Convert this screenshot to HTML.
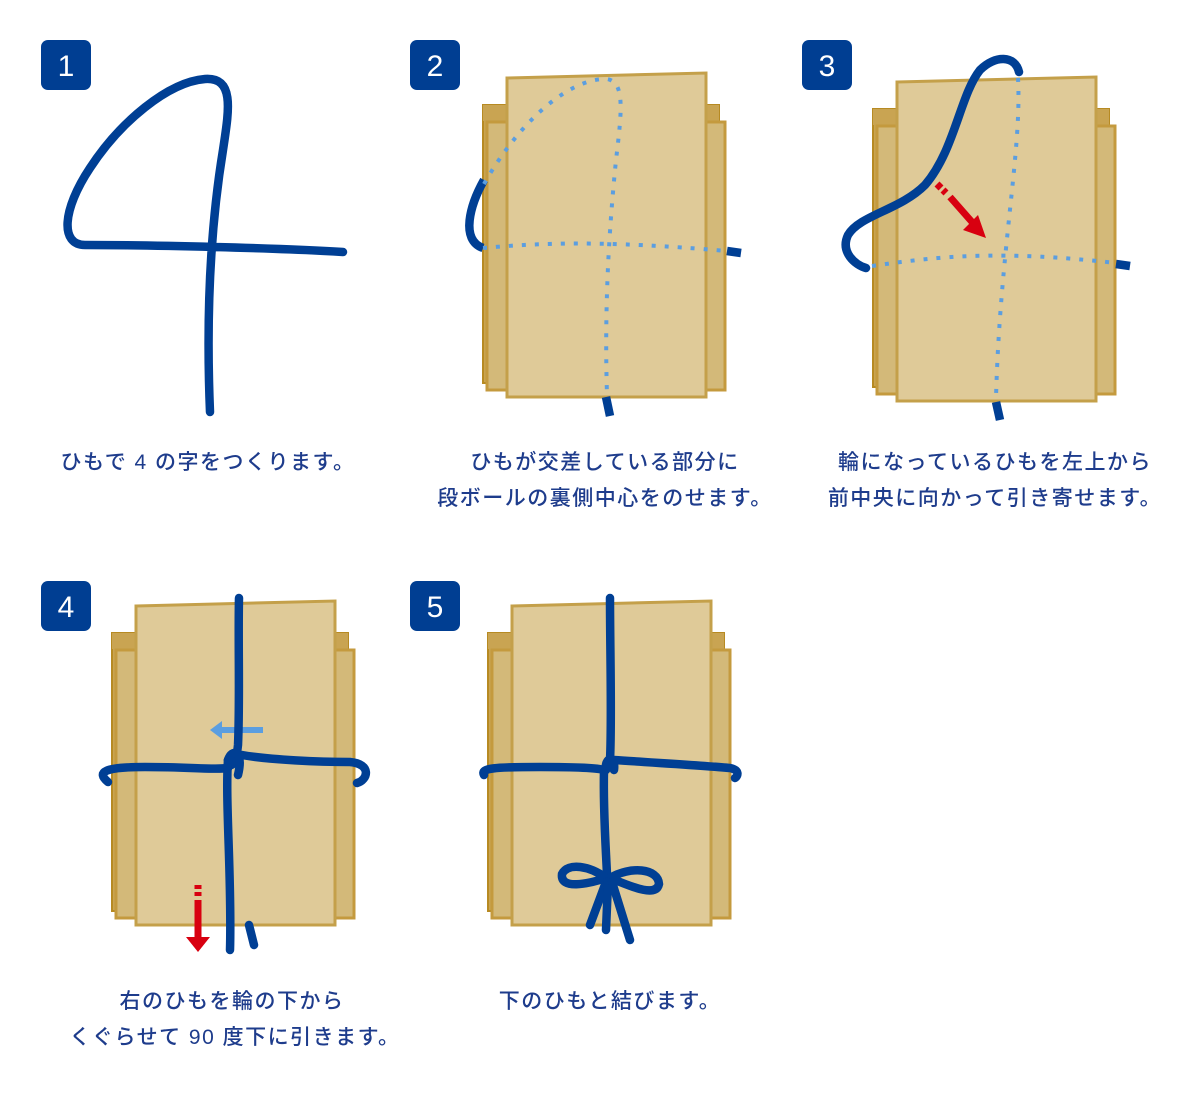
<!DOCTYPE html>
<html><head><meta charset="utf-8"><style>
html,body{margin:0;padding:0;background:#fff;width:1200px;height:1100px;overflow:hidden}
svg{display:block}
text{font-family:"Liberation Sans","Noto Sans CJK JP",sans-serif}
</style></head><body>
<svg width="1200" height="1100" viewBox="0 0 1200 1100">
<defs>
<g id="stack">
  <rect x="483" y="105" width="236" height="278" fill="#c9a452" stroke="#b78a22" stroke-width="2"/>
  <rect x="483" y="105" width="236" height="16" fill="#c9a452"/>
  <rect x="487" y="122" width="238" height="268" fill="#d3b979" stroke="#c49a3e" stroke-width="3"/>
  <path d="M507,78 L706,73 L706,397 L507,397 Z" fill="#dfca98" stroke="#c4a04a" stroke-width="3"/>
</g>
<g id="badge"><rect x="0" y="0" width="50" height="50" rx="7" fill="#003e92"/></g>
</defs>

<use href="#badge" x="41" y="40"/><use href="#badge" x="410" y="40"/><use href="#badge" x="802" y="40"/>
<use href="#badge" x="41" y="581"/><use href="#badge" x="410" y="581"/>
<g fill="#fff" font-size="30" text-anchor="middle">
<text x="66" y="76">1</text><text x="435" y="76">2</text><text x="827" y="76">3</text>
<text x="66" y="617">4</text><text x="435" y="617">5</text>
</g>

<g fill="none" stroke="#003f94" stroke-width="8.5" stroke-linecap="round">
<path d="M343,252 C280,248 150,245 85,245 C60,245 62,210 90,168 C120,122 168,82 205,79 C235,77 229,110 223,150 C214,205 205,290 210,412"/>
</g>

<!-- panel 2 -->
<use href="#stack"/>
<g fill="none" stroke="#003f94" stroke-width="8.5" stroke-linecap="butt">
<path d="M484,180 C470,205 460,240 483,248"/>
<path d="M727,251 L741,253"/>
<path d="M606,397 L610,416"/>
</g>
<g fill="none" stroke="#5b9ee0" stroke-width="4" stroke-dasharray="4 9">
<path d="M484,184 C520,120 570,78 607,79 C625,82 622,110 616,160 C610,220 604,300 607,395"/>
<path d="M483,248 C540,243 600,240 727,251"/>
</g>

<!-- panel 3 -->
<use href="#stack" x="390" y="4"/>
<g fill="none" stroke="#5b9ee0" stroke-width="4" stroke-dasharray="4 9">
<path d="M1018,78 C1022,150 1000,250 996,398"/>
<path d="M872,266 C940,256 1000,250 1116,263"/>
</g>
<g fill="none" stroke="#003f94" stroke-width="8.5" stroke-linecap="round">
<path d="M1019,72 C1015,55 995,55 980,70 C960,95 955,150 925,185 C900,210 860,215 848,235 C840,252 855,265 866,268"/>
<path d="M1116,264 L1130,266" stroke-linecap="butt"/>
<path d="M996,402 L1000,420" stroke-linecap="butt"/>
</g>
<g stroke="#d80010" stroke-width="7">
<path d="M950,197 L972,222"/>
<path d="M937,184 L941,188 M943,190 L946,193"/>
</g>
<polygon points="986,238 963,230 978,215" fill="#d80010"/>

<!-- panel 4 -->
<use href="#stack" x="-371" y="528"/>
<g fill="none" stroke="#5b9ee0" stroke-width="6">
<path d="M263,730 L222,730"/>
</g>
<polygon points="210,730 222,721 222,739" fill="#5b9ee0"/>
<g fill="none" stroke="#003f94" stroke-width="8.5" stroke-linecap="round">
<path d="M239,598 C238,640 240,700 238,745 C236,765 230,770 228,760"/>
<path d="M108,782 C96,772 104,767 145,767 C190,767 215,770 228,768"/>
<path d="M242,755 C270,760 320,762 350,762 C372,764 368,780 357,783"/>
<path d="M228,760 C225,800 232,880 230,950"/>
<path d="M249,925 L254,945"/>
<path d="M228,760 C232,748 244,750 238,775"/>
</g>
<g stroke="#d80010">
<path d="M198,900 L198,937" stroke-width="7"/>
<path d="M198,885 L198,889 M198,892 L198,896" stroke-width="7"/>
</g>
<polygon points="186,937 210,937 198,952" fill="#d80010"/>

<!-- panel 5 -->
<use href="#stack" x="5" y="528"/>
<g fill="none" stroke="#003f94" stroke-width="8.5" stroke-linecap="round">
<path d="M610,598 C610,650 612,720 610,760"/>
<path d="M484,775 C480,768 495,767 540,767 C580,767 598,768 604,770"/>
<path d="M614,760 C660,763 710,766 730,768 C740,770 738,776 735,778"/>
<path d="M604,770 C603,810 606,850 607,875"/>
<path d="M606,770 C604,757 616,755 614,770"/>
<path d="M606,878 C590,866 568,862 562,874 C560,890 588,884 606,878"/>
<path d="M610,878 C630,866 658,868 659,884 C656,898 630,886 610,878"/>
<path d="M606,882 L590,925"/>
<path d="M608,882 L606,930"/>
<path d="M612,882 L630,940"/>
</g>

<g fill="#1e3c8c" font-size="21" font-weight="500" letter-spacing="1.5" text-anchor="middle">
<text x="208" y="469">ひもで 4 の字をつくります。</text>
<text x="605" y="469">ひもが交差している部分に</text>
<text x="605" y="505">段ボールの裏側中心をのせます。</text>
<text x="995" y="469">輪になっているひもを左上から</text>
<text x="995" y="505">前中央に向かって引き寄せます。</text>
<text x="232" y="1008">右のひもを輪の下から</text>
<text x="235" y="1044">くぐらせて 90 度下に引きます。</text>
<text x="610" y="1008">下のひもと結びます。</text>
</g>
</svg>
</body></html>
